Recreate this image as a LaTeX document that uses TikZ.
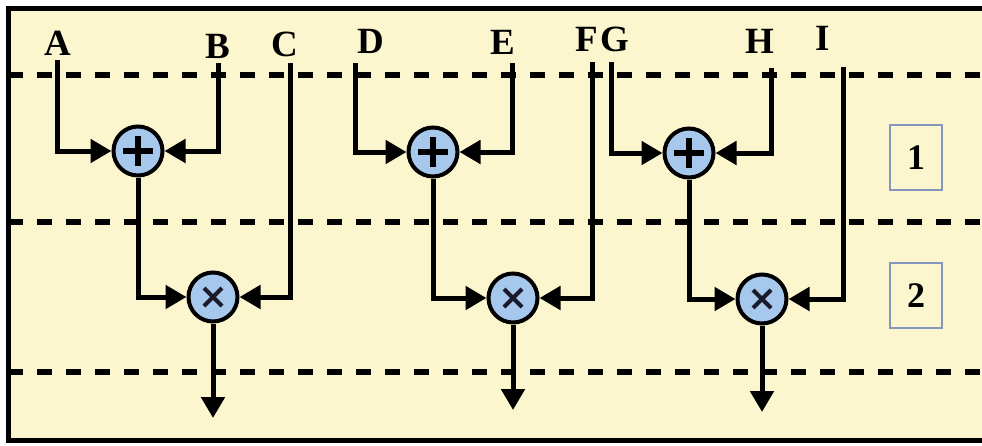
\documentclass[tikz,border=0pt]{standalone}
\usepackage{fontspec}
\setmainfont{Liberation Serif}
\usetikzlibrary{arrows.meta}
\definecolor{bgyellow}{HTML}{FCF6CF}
\definecolor{opblue}{HTML}{A6C8EC}
\definecolor{boxedge}{HTML}{8496BC}
\definecolor{crossink}{HTML}{1A1A2A}
\begin{document}
\begin{tikzpicture}[x=1pt,y=-1pt,
  wire/.style={line width=5pt},
  arr/.style={wire,-{Triangle[length=21pt,width=23pt]}},
  dashline/.style={line width=6pt,dash pattern=on 15pt off 14pt},
  lbl/.style={inner sep=0pt,font=\bfseries\fontsize{37}{37}\selectfont},
  opnode/.style={circle,draw,line width=4pt,fill=opblue,minimum size=49pt,inner sep=0pt},
  plusop/.style={opnode,path picture={
     \draw[line width=6.5pt] ([xshift=-15pt]path picture bounding box.center) -- ([xshift=15pt]path picture bounding box.center);
     \draw[line width=6.5pt] ([yshift=-15pt]path picture bounding box.center) -- ([yshift=15pt]path picture bounding box.center);}},
  timesop/.style={opnode,path picture={
     \draw[line width=4pt,crossink] ([shift={(-9pt,-9pt)}]path picture bounding box.center) -- ([shift={(9pt,9pt)}]path picture bounding box.center);
     \draw[line width=4pt,crossink] ([shift={(-9pt,9pt)}]path picture bounding box.center) -- ([shift={(9pt,-9pt)}]path picture bounding box.center);}},
  stagebox/.style={draw=boxedge,line width=1.5pt,minimum width=52pt,minimum height=65pt,inner sep=0pt,font=\bfseries\fontsize{36}{36}\selectfont}
]
\useasboundingbox (0,0) rectangle (982,445);
\fill[white] (0,0) rectangle (982,445);
\fill[bgyellow] (8,8) rectangle (982,440);
\draw[line width=5pt] (982,8) -- (8,8) -- (8,440) -- (982,440);

% stage separators
\draw[dashline] (8,75) -- (982,75);
\draw[dashline] (8,222) -- (982,222);
\draw[dashline] (8,372) -- (982,372);

% labels
\node[lbl] (lA) at (58,43) {A};
\node[lbl] (lB) at (218,46) {B};
\node[lbl] (lC) at (285,44) {C};
\node[lbl] (lD) at (371,41) {D};
\node[lbl] (lE) at (503,42) {E};
\node[lbl] (lF) at (587,39) {F};
\node[lbl] (lG) at (615,39) {G};
\node[lbl] (lH) at (760,41) {H};
\node[lbl] (lI) at (823,38) {I};

% wire start points
\coordinate (sA) at (57,60);
\coordinate (sB) at (218,63);
\coordinate (sC) at (290,63);
\coordinate (sD) at (355,63);
\coordinate (sE) at (512,63);
\coordinate (sF) at (592,62);
\coordinate (sG) at (611,62);
\coordinate (sH) at (771,68);
\coordinate (sI) at (843,67);

% operators
\node[plusop] (p1) at (138,151) {};
\node[plusop] (p2) at (433,152) {};
\node[plusop] (p3) at (689,153) {};
\node[timesop] (m1) at (213,297) {};
\node[timesop] (m2) at (513,298) {};
\node[timesop] (m3) at (762,299) {};

% outputs
\coordinate (o1) at (213,418);
\coordinate (o2) at (513,410);
\coordinate (o3) at (762,412);

% stage boxes
\node[stagebox] (b1) at (916,157.5) {1};
\node[stagebox] (b2) at (916,295.5) {2};

% connectors
\draw[arr] (sA) |- (p1);
\draw[arr] (sB) |- (p1);
\draw[arr] (p1) |- (m1);
\draw[arr] (sC) |- (m1);
\draw[arr] (m1) -- (o1);

\draw[arr] (sD) |- (p2);
\draw[arr] (sE) |- (p2);
\draw[arr] (p2) |- (m2);
\draw[arr] (sF) |- (m2);
\draw[arr] (m2) -- (o2);

\draw[arr] (sG) |- (p3);
\draw[arr] (sH) |- (p3);
\draw[arr] (p3) |- (m3);
\draw[arr] (sI) |- (m3);
\draw[arr] (m3) -- (o3);
\end{tikzpicture}
\end{document}
